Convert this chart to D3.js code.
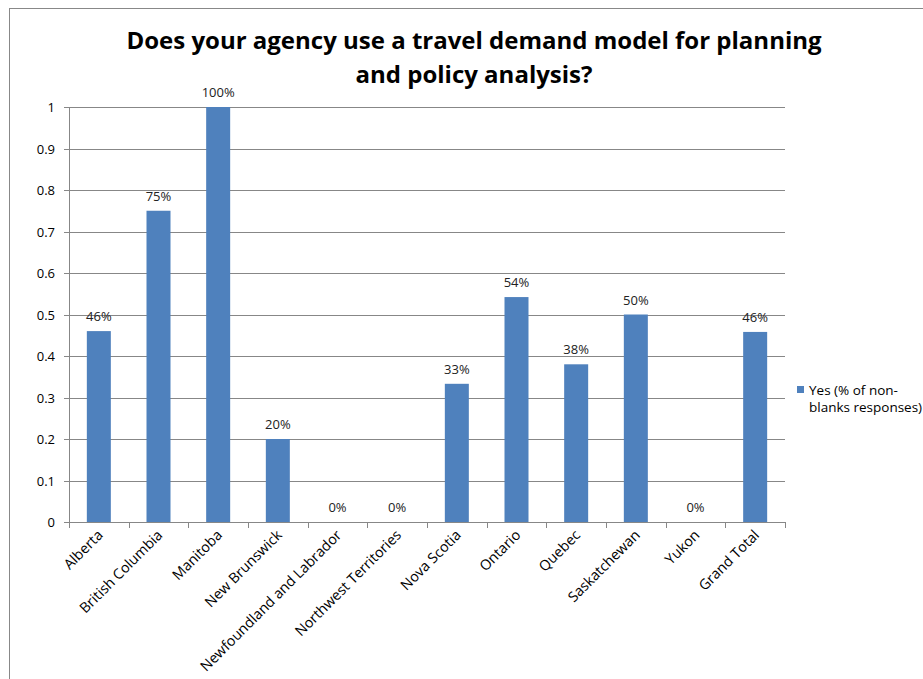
<!DOCTYPE html>
<html lang="en">
<head>
  <meta charset="UTF-8" />
  <title>Travel demand model use</title>
  <script src="https://d3js.org/d3.v7.min.js"></script>
  <style>
    body { margin: 0; background: #fff; overflow: hidden; }
    svg { display: block; font-family: "Open Sans", sans-serif; }
  </style>
</head>
<body>
<svg id="chart" width="923" height="679"></svg>
<script>
const provinces = ["Alberta", "British Columbia", "Manitoba", "New Brunswick",
  "Newfoundland and Labrador", "Northwest Territories", "Nova Scotia", "Ontario",
  "Quebec", "Saskatchewan", "Yukon", "Grand Total"];
const yesShare = [0.46, 0.75, 1.0, 0.20, 0, 0, 0.333, 0.542, 0.38, 0.50, 0, 0.458];
const yTicks = [0, 0.1, 0.2, 0.3, 0.4, 0.5, 0.6, 0.7, 0.8, 0.9, 1];
const titleLines = ["Does your agency use a travel demand model for planning", "and policy analysis?"];
const legendLines = ["Yes (% of non-", "blanks responses)"];

const svg = d3.select("#chart");
const plot = { left: 69, right: 785, top: 107, bottom: 522 };
const barColor = "#4F81BD";
const gridColor = "#878787";

// outer chart frame
svg.append("rect")
  .attr("x", 9.5).attr("y", 8.5)
  .attr("width", 940).attr("height", 700)
  .attr("fill", "none").attr("stroke", "#888").attr("stroke-width", 1);

svg.selectAll(".title")
  .data(titleLines)
  .enter().append("text")
  .attr("x", 474)
  .attr("y", (d, i) => 49 + i * 34)
  .attr("text-anchor", "middle")
  .attr("font-size", 24)
  .attr("font-weight", "bold")
  .attr("fill", "#000")
  .text(d => d);

const x = d3.scaleBand().domain(provinces).range([plot.left, plot.right]);
const y = d3.scaleLinear().domain([0, 1]).range([plot.bottom, plot.top]);

// gridlines + y labels
svg.selectAll(".grid")
  .data(yTicks)
  .enter().append("line")
  .attr("x1", plot.left - 5).attr("x2", plot.right)
  .attr("y1", d => Math.round(y(d)) + 0.5).attr("y2", d => Math.round(y(d)) + 0.5)
  .attr("stroke", gridColor).attr("stroke-width", 1);

svg.selectAll(".ylab")
  .data(yTicks)
  .enter().append("text")
  .attr("x", 55)
  .attr("y", d => y(d) + 5)
  .attr("text-anchor", "end")
  .attr("font-size", 13)
  .attr("fill", "#000")
  .text(d => d3.format("~g")(d));

// y axis line
svg.append("line")
  .attr("x1", plot.left + 0.5).attr("x2", plot.left + 0.5)
  .attr("y1", plot.top).attr("y2", plot.bottom)
  .attr("stroke", gridColor);

// x axis ticks at category boundaries
const bounds = provinces.map(p => x(p)).concat([plot.right]);
svg.selectAll(".xtick")
  .data(bounds)
  .enter().append("line")
  .attr("x1", d => Math.round(d) + 0.5).attr("x2", d => Math.round(d) + 0.5)
  .attr("y1", plot.bottom).attr("y2", plot.bottom + 6)
  .attr("stroke", gridColor);

// bars
const barW = 24;
svg.selectAll(".bar")
  .data(provinces)
  .enter().append("rect")
  .attr("x", d => x(d) + x.bandwidth() / 2 - barW / 2)
  .attr("y", (d, i) => y(yesShare[i]))
  .attr("width", barW)
  .attr("height", (d, i) => plot.bottom - y(yesShare[i]))
  .attr("fill", barColor);

// data labels
svg.selectAll(".vlab")
  .data(provinces)
  .enter().append("text")
  .attr("x", d => x(d) + x.bandwidth() / 2)
  .attr("y", (d, i) => y(yesShare[i]) - 10)
  .attr("text-anchor", "middle")
  .attr("font-size", 13)
  .attr("fill", "#222")
  .text((d, i) => d3.format(".0%")(yesShare[i]));

// category labels
svg.selectAll(".xlab")
  .data(provinces)
  .enter().append("text")
  .attr("transform", d => `translate(${x(d) + x.bandwidth() / 2 + 5},${plot.bottom + 14}) rotate(-45)`)
  .attr("text-anchor", "end")
  .attr("font-size", 14.3)
  .attr("fill", "#000")
  .text(d => d);

// x axis line on top
svg.append("line")
  .attr("x1", plot.left).attr("x2", plot.right)
  .attr("y1", plot.bottom + 0.5).attr("y2", plot.bottom + 0.5)
  .attr("stroke", gridColor);

// legend
svg.append("rect")
  .attr("x", 797).attr("y", 386).attr("width", 7).attr("height", 7)
  .attr("fill", barColor);
svg.selectAll(".leg")
  .data(legendLines)
  .enter().append("text")
  .attr("x", 809)
  .attr("y", (d, i) => 395 + i * 17)
  .attr("font-size", 13.5)
  .attr("fill", "#000")
  .text(d => d);
</script>
</body>
</html>
